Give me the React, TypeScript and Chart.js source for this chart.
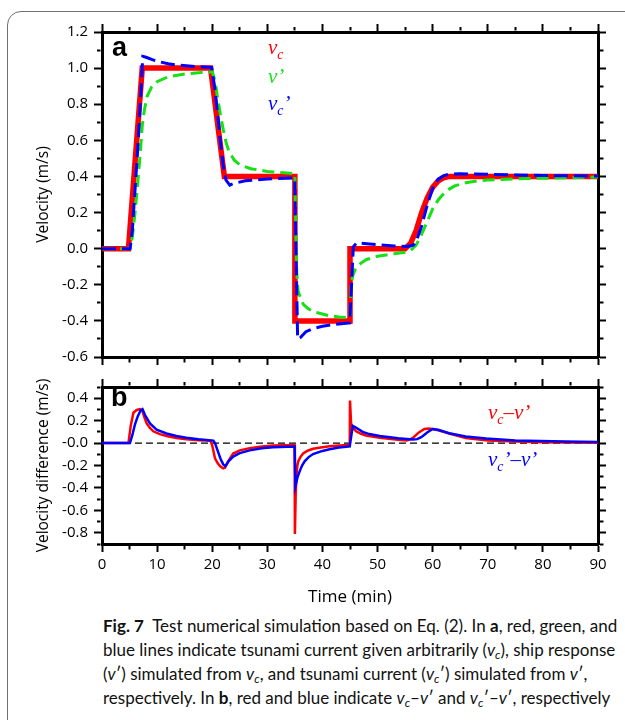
import React, { useEffect, useRef } from 'react';
import { Chart, registerables } from 'chart.js';
Chart.register(...registerables);

// ---------------- data (time in min, velocity in m/s) ----------------
// Panel a: tsunami current given arbitrarily (v_c)
const vcTime = [0, 4.8, 7.3, 19.7, 22.2, 35, 35, 45, 45, 55, 56, 57, 58, 59, 60, 61, 62, 63, 90];
const vcValues = [0, 0, 1.0, 1.0, 0.4, 0.4, -0.4, -0.4, 0, 0, 0.03, 0.1, 0.2, 0.28, 0.34, 0.375, 0.393, 0.4, 0.4];

// Panel a: ship response v'
const vpTime = [0, 5.0, 5.5, 6.0, 6.5, 7.0, 7.3, 7.7, 8.2, 9.0, 10, 12, 15, 18, 20, 20.5, 21, 21.5, 22, 22.5, 23, 24, 25, 27, 30, 33, 35, 35.15, 35.3, 35.45, 35.6, 36, 36.5, 37.3, 38.3, 40, 41.3, 43, 45, 45.2, 45.5, 46, 47, 48, 50, 53, 55, 56, 57, 58, 59, 60, 61, 62, 63, 64, 66, 68, 70, 75, 80, 85, 90];
const vpValues = [0, 0, 0.06, 0.2, 0.37, 0.55, 0.68, 0.77, 0.845, 0.895, 0.925, 0.952, 0.967, 0.976, 0.98, 0.93, 0.83, 0.74, 0.66, 0.59, 0.54, 0.49, 0.465, 0.443, 0.428, 0.42, 0.415, 0.1, -0.1, -0.19, -0.236, -0.27, -0.307, -0.33, -0.349, -0.362, -0.372, -0.378, -0.383, -0.2, -0.15, -0.11, -0.08, -0.06, -0.042, -0.028, -0.02, -0.01, 0.02, 0.08, 0.15, 0.22, 0.27, 0.305, 0.33, 0.348, 0.365, 0.375, 0.38, 0.387, 0.39, 0.393, 0.397];

// Panel a: tsunami current simulated from v' (v_c')
const vcpTime = [0, 5.1, 5.5, 6.0, 6.5, 7.0, 7.4, 8.0, 9.0, 10, 12, 14, 17, 19.9, 20.5, 21, 21.5, 22, 22.5, 23.2, 24, 26, 30, 34.95, 35.5, 36, 37, 38.3, 40, 42, 44.95, 45.6, 46.2, 48, 50, 53, 55.5, 56.5, 57, 58, 59, 60, 61, 62, 63, 65, 70, 75, 80, 90];
const vcpValues = [0, 0, 0.1, 0.33, 0.56, 0.83, 1.065, 1.06, 1.048, 1.038, 1.024, 1.016, 1.009, 1.004, 0.88, 0.74, 0.59, 0.46, 0.38, 0.352, 0.362, 0.376, 0.386, 0.392, -0.5, -0.492, -0.46, -0.442, -0.43, -0.42, -0.411, 0.01, 0.032, 0.027, 0.022, 0.015, 0.012, 0.02, 0.04, 0.125, 0.24, 0.335, 0.385, 0.405, 0.412, 0.415, 0.412, 0.408, 0.405, 0.402];

// Panel b: v_c - v'
const diffRedTime = [0, 4.8, 5.2, 5.7, 6.3, 6.9, 7.3, 7.7, 8.1, 8.7, 9.3, 10.5, 11.7, 13.5, 15.3, 17.5, 19.7, 20.0, 20.5, 21.0, 21.5, 22.0, 22.3, 22.8, 23.8, 25, 26.8, 29, 31, 34.95, 35.0, 35.15, 35.3, 35.45, 35.6, 36, 36.5, 37.3, 38.3, 40, 41.3, 43, 44.95, 45.0, 45.2, 45.5, 46.1, 47, 47.9, 50.4, 53.7, 55.3, 56, 56.5, 57.5, 58.5, 59.3, 60, 61, 63, 66, 70, 75, 80, 90];
const diffRedValues = [0, 0, 0.15, 0.27, 0.295, 0.302, 0.29, 0.23, 0.175, 0.135, 0.105, 0.08, 0.063, 0.045, 0.034, 0.026, 0.02, -0.02, -0.136, -0.18, -0.21, -0.226, -0.22, -0.17, -0.093, -0.065, -0.045, -0.03, -0.022, -0.017, -0.81, -0.45, -0.28, -0.2, -0.164, -0.125, -0.093, -0.068, -0.051, -0.037, -0.028, -0.021, -0.017, 0.38, 0.175, 0.135, 0.105, 0.083, 0.068, 0.048, 0.029, 0.023, 0.035, 0.05, 0.095, 0.125, 0.13, 0.125, 0.113, 0.085, 0.046, 0.022, 0.013, 0.008, 0.003];

// Panel b: v_c' - v'
const diffBlueTime = [0, 5.07, 5.5, 6.0, 6.5, 7.0, 7.35, 7.8, 8.7, 9.9, 11.7, 13.5, 15.3, 17.5, 20.2, 20.5, 21.0, 21.5, 22.0, 22.4, 23.0, 23.8, 25, 26.8, 29, 31, 34.95, 35.1, 35.5, 35.9, 36.3, 36.8, 37.5, 38.3, 40, 41.3, 43, 44.95, 45.1, 45.5, 46.0, 47.3, 48.5, 50.4, 53.7, 56.4, 57.2, 58, 59, 60, 61, 63, 66, 69.7, 75, 84, 90];
const diffBlueValues = [0, 0, 0.07, 0.17, 0.24, 0.29, 0.302, 0.25, 0.175, 0.119, 0.085, 0.063, 0.048, 0.034, 0.022, 0.0, -0.07, -0.14, -0.19, -0.206, -0.16, -0.121, -0.09, -0.065, -0.047, -0.038, -0.03, -0.384, -0.3, -0.248, -0.2, -0.16, -0.125, -0.098, -0.07, -0.055, -0.04, -0.03, 0.02, 0.153, 0.14, 0.1, 0.08, 0.063, 0.042, 0.031, 0.035, 0.055, 0.095, 0.125, 0.118, 0.088, 0.059, 0.04, 0.023, 0.013, 0.01];

const zeroLineTime = [0, 90];
const zeroLineValues = [0, 0];

// axis ranges
const timeRange = [0, 90];
const velRange = [-0.6, 1.2];
const diffRange = [-0.9, 0.5];

// ---------------- styling ----------------
const SANS = "'Open Sans', 'Noto Sans', sans-serif";
const CAPTION = "Lato, 'Open Sans', sans-serif";
const SERIF = "'Liberation Serif', 'DejaVu Serif', serif";
const RED = '#ff0000';
const GREEN = '#16e016';
const BLUE = '#0000ff';
const TL = 8;

const xy = (t: number[], v: number[]) => t.map((x, i) => ({ x, y: v[i] }));
const xMajor = (v: number) => Math.round(v) % 10 === 0;
const yMajor = (v: number) => Math.abs(Math.round(v * 10)) % 2 === 0;

function makeAxis(position: string, range: number[], step: number, isMajor: (v: number) => boolean, size: number, labels: boolean, pad: number, title?: any) {
  const horizontal = position === 'top' || position === 'bottom';
  const outerFirst = position === 'top' || position === 'left';
  return {
    type: 'linear',
    axis: horizontal ? 'x' : 'y',
    position,
    min: range[0],
    max: range[1],
    border: { display: true, width: 3, color: '#000' },
    grid: {
      drawOnChartArea: false,
      drawTicks: true,
      tickLength: TL,
      tickWidth: 2,
      tickColor: '#000',
      tickBorderDash: (ctx: any) => {
        if (!ctx.tick || isMajor(ctx.tick.value)) return [];
        return outerFirst ? [0, TL - 1.5 - 3.5, 3.5, 100] : [3.5, 100];
      },
    },
    ticks: {
      display: labels,
      stepSize: step,
      autoSkip: false,
      maxRotation: 0,
      padding: pad,
      color: '#000',
      font: { family: SANS, size: 15 },
      callback: (v: number) => (isMajor(v) ? (step < 1 ? v.toFixed(1) : String(Math.round(v))) : ''),
    },
    title: title ?? { display: false },
    afterFit: (scale: any) => {
      if (horizontal) scale.height = size;
      else scale.width = size;
    },
  };
}

const lineDs = (label: string, data: any, color: string, width: number, dash: number[]) => ({
  label,
  data,
  borderColor: color,
  backgroundColor: color,
  borderWidth: width,
  borderDash: dash,
  borderJoinStyle: 'miter' as const,
  pointRadius: 0,
  fill: false,
  tension: 0,
});

function PanelA() {
  const ref = useRef<HTMLCanvasElement>(null);
  useEffect(() => {
    const chart = new Chart(ref.current as HTMLCanvasElement, {
      type: 'line',
      data: {
        datasets: [
          lineDs("vc'", xy(vcpTime, vcpValues), BLUE, 3, [14, 6]),
          lineDs("v'", xy(vpTime, vpValues), GREEN, 3, [12, 6]),
          lineDs('vc', xy(vcTime, vcValues), RED, 5.5, []),
        ],
      },
      options: {
        animation: false,
        responsive: false,
        maintainAspectRatio: false,
        layout: { padding: 0 },
        plugins: { legend: { display: false }, tooltip: { enabled: false } },
        scales: {
          x: makeAxis('bottom', timeRange, 5, xMajor, 9, false, 0),
          xTop: makeAxis('top', timeRange, 5, xMajor, 32, false, 0),
          y: makeAxis('left', velRange, 0.1, yMajor, 102, true, 6, {
            display: true, text: 'Velocity (m/s)', color: '#000',
            font: { family: SANS, size: 15.5 }, padding: { top: 34, bottom: 0 },
          }),
          yRight: makeAxis('right', velRange, 0.1, yMajor, 27, false, 0),
        } as any,
      },
    });
    return () => chart.destroy();
  }, []);
  return <canvas ref={ref} width={625} height={372} style={{ position: 'absolute', left: 0, top: 0, width: 625, height: 372 }} />;
}

function PanelB() {
  const ref = useRef<HTMLCanvasElement>(null);
  useEffect(() => {
    const chart = new Chart(ref.current as HTMLCanvasElement, {
      type: 'line',
      data: {
        datasets: [
          lineDs("vc'-v'", xy(diffBlueTime, diffBlueValues), BLUE, 2.5, []),
          lineDs("vc-v'", xy(diffRedTime, diffRedValues), RED, 2.5, []),
          lineDs('zero', xy(zeroLineTime, zeroLineValues), '#000', 1.2, [7, 4]),
        ],
      },
      options: {
        animation: false,
        responsive: false,
        maintainAspectRatio: false,
        layout: { padding: 0 },
        plugins: { legend: { display: false }, tooltip: { enabled: false } },
        scales: {
          x: makeAxis('bottom', timeRange, 5, xMajor, 68, true, 3.5, {
            display: true, text: 'Time (min)', color: '#000',
            font: { family: SANS, size: 17 }, padding: { top: 0, bottom: 5 },
          }),
          xTop: makeAxis('top', timeRange, 5, xMajor, 8, false, 0),
          y: makeAxis('left', diffRange, 0.1, yMajor, 102, true, 6, {
            display: true, text: 'Velocity difference (m/s)', color: '#000',
            font: { family: SANS, size: 15.5 }, padding: { top: 34, bottom: 0 },
          }),
          yRight: makeAxis('right', diffRange, 0.1, yMajor, 27, false, 0),
        } as any,
      },
    });
    return () => chart.destroy();
  }, []);
  return <canvas ref={ref} width={625} height={240} style={{ position: 'absolute', left: 0, top: 372, width: 625, height: 240 }} />;
}

function Txt(props: { left: number; baseline: number; size: number; color?: string; family: string; weight?: string; italic?: boolean; children: any }) {
  const { left, baseline, size, color = '#000', family, weight = 'normal', italic = false, children } = props;
  return (
    <div style={{ position: 'absolute', left, top: baseline - 0.84 * size, fontSize: size, lineHeight: `${size}px`, fontFamily: family, fontWeight: weight as any, fontStyle: italic ? 'italic' : 'normal', color, whiteSpace: 'nowrap' }}>
      {children}
    </div>
  );
}

const Sub = ({ children }: { children: any }) => (
  <span style={{ fontSize: '0.66em', position: 'relative', top: '0.3em' }}>{children}</span>
);

const CapSub = ({ children }: { children: any }) => (
  <span style={{ fontSize: '0.7em', position: 'relative', top: '0.28em', fontStyle: 'italic' }}>{children}</span>
);

export default function App() {
  const capLine: React.CSSProperties = { position: 'absolute', left: 103, whiteSpace: 'nowrap', fontFamily: CAPTION, fontSize: 17, lineHeight: '24px', color: '#111' };
  return (
    <div style={{ position: 'fixed', left: 0, top: 0, width: 625, height: 720, overflow: 'hidden', background: '#fff' }}>
      <div style={{ position: 'absolute', left: 7, top: 11, width: 660, height: 760, border: '1.5px solid #707070', borderRadius: 14 }} />
      <PanelA />
      <PanelB />
      {/* panel letters */}
      <Txt left={112} baseline={57} size={27} family="'Liberation Sans', Arial, sans-serif" weight="bold">a</Txt>
      <Txt left={111} baseline={407} size={27} family="'Liberation Sans', Arial, sans-serif" weight="bold">b</Txt>
      {/* panel a legend */}
      <Txt left={268} baseline={55} size={21} color={RED} family={SERIF} italic>v<Sub>c</Sub></Txt>
      <Txt left={268} baseline={84} size={21} color={GREEN} family={SERIF} italic>v’</Txt>
      <Txt left={268} baseline={111} size={21} color={BLUE} family={SERIF} italic>v<Sub>c</Sub>’</Txt>
      {/* panel b legend */}
      <Txt left={488} baseline={420} size={21} color={RED} family={SERIF} italic>v<Sub>c</Sub>–v’</Txt>
      <Txt left={488} baseline={467} size={21} color={BLUE} family={SERIF} italic>v<Sub>c</Sub>’–v’</Txt>
      {/* caption */}
      <div style={{ ...capLine, top: 614 }}><b>Fig. 7</b>&nbsp; Test numerical simulation based on Eq. (2). In <b>a</b>, red, green, and</div>
      <div style={{ ...capLine, top: 638 }}>blue lines indicate tsunami current given arbitrarily (<i>v</i><CapSub>c</CapSub>), ship response</div>
      <div style={{ ...capLine, top: 662 }}>(<i>v</i>′) simulated from <i>v</i><CapSub>c</CapSub>, and tsunami current (<i>v</i><CapSub>c</CapSub>′) simulated from <i>v</i>′,</div>
      <div style={{ ...capLine, top: 686 }}>respectively. In <b>b</b>, red and blue indicate <i>v</i><CapSub>c</CapSub>–<i>v</i>′ and <i>v</i><CapSub>c</CapSub>′–<i>v</i>′, respectively</div>
    </div>
  );
}
